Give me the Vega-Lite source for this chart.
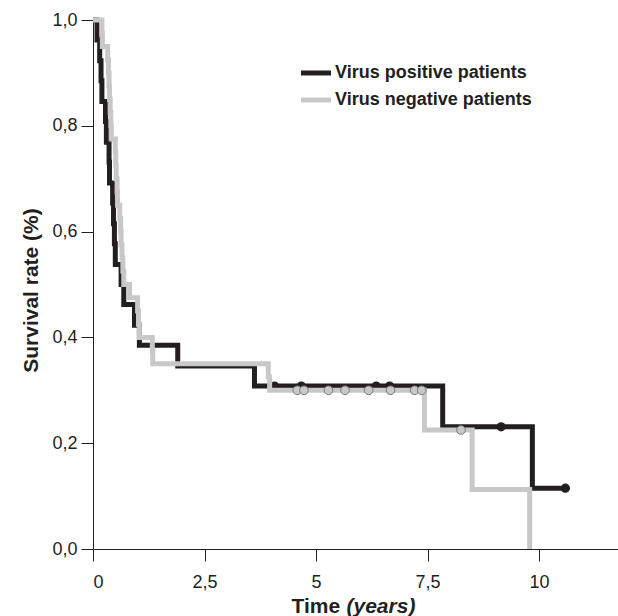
{
  "$schema": "https://vega.github.io/schema/vega-lite/v6.json",
  "width": 525,
  "height": 529,
  "autosize": {"type": "none"},
  "padding": {"left": 93, "top": 20, "right": 0, "bottom": 67},
  "background": "white",
  "config": {
    "view": {"stroke": null},
    "axis": {
      "domainColor": "#231f20",
      "domainWidth": 1,
      "tickColor": "#231f20",
      "tickWidth": 1,
      "tickSize": 12,
      "grid": false,
      "labelFont": "Liberation Sans",
      "labelFontSize": 18,
      "labelColor": "#231f20",
      "titleFont": "Liberation Sans",
      "titleFontSize": 21,
      "titleFontWeight": "bold",
      "titleColor": "#231f20"
    }
  },
  "resolve": {"axis": {"x": "independent", "y": "independent"}},
  "datasets": {
    "curves": [
      {"group": "Virus positive patients", "t": 0, "s": 1},
      {"group": "Virus positive patients", "t": 0.09, "s": 0.962},
      {"group": "Virus positive patients", "t": 0.15, "s": 0.923},
      {"group": "Virus positive patients", "t": 0.18, "s": 0.885},
      {"group": "Virus positive patients", "t": 0.2, "s": 0.846},
      {"group": "Virus positive patients", "t": 0.28, "s": 0.808},
      {"group": "Virus positive patients", "t": 0.3, "s": 0.769},
      {"group": "Virus positive patients", "t": 0.36, "s": 0.731},
      {"group": "Virus positive patients", "t": 0.37, "s": 0.692},
      {"group": "Virus positive patients", "t": 0.44, "s": 0.654},
      {"group": "Virus positive patients", "t": 0.46, "s": 0.615},
      {"group": "Virus positive patients", "t": 0.48, "s": 0.577},
      {"group": "Virus positive patients", "t": 0.5, "s": 0.538},
      {"group": "Virus positive patients", "t": 0.63, "s": 0.5},
      {"group": "Virus positive patients", "t": 0.69, "s": 0.462},
      {"group": "Virus positive patients", "t": 0.93, "s": 0.423},
      {"group": "Virus positive patients", "t": 1.04, "s": 0.385},
      {"group": "Virus positive patients", "t": 1.9, "s": 0.346},
      {"group": "Virus positive patients", "t": 3.62, "s": 0.308},
      {"group": "Virus positive patients", "t": 7.84, "s": 0.231},
      {"group": "Virus positive patients", "t": 9.85, "s": 0.115},
      {"group": "Virus positive patients", "t": 10.59, "s": 0.115},
      {"group": "Virus negative patients", "t": 0, "s": 1},
      {"group": "Virus negative patients", "t": 0.2, "s": 0.975},
      {"group": "Virus negative patients", "t": 0.21, "s": 0.95},
      {"group": "Virus negative patients", "t": 0.33, "s": 0.925},
      {"group": "Virus negative patients", "t": 0.345, "s": 0.9},
      {"group": "Virus negative patients", "t": 0.36, "s": 0.875},
      {"group": "Virus negative patients", "t": 0.37, "s": 0.85},
      {"group": "Virus negative patients", "t": 0.385, "s": 0.825},
      {"group": "Virus negative patients", "t": 0.4, "s": 0.8},
      {"group": "Virus negative patients", "t": 0.41, "s": 0.775},
      {"group": "Virus negative patients", "t": 0.5, "s": 0.75},
      {"group": "Virus negative patients", "t": 0.51, "s": 0.725},
      {"group": "Virus negative patients", "t": 0.52, "s": 0.7},
      {"group": "Virus negative patients", "t": 0.54, "s": 0.675},
      {"group": "Virus negative patients", "t": 0.55, "s": 0.65},
      {"group": "Virus negative patients", "t": 0.6, "s": 0.625},
      {"group": "Virus negative patients", "t": 0.62, "s": 0.6},
      {"group": "Virus negative patients", "t": 0.63, "s": 0.575},
      {"group": "Virus negative patients", "t": 0.65, "s": 0.55},
      {"group": "Virus negative patients", "t": 0.67, "s": 0.525},
      {"group": "Virus negative patients", "t": 0.69, "s": 0.5},
      {"group": "Virus negative patients", "t": 0.82, "s": 0.475},
      {"group": "Virus negative patients", "t": 1.0, "s": 0.45},
      {"group": "Virus negative patients", "t": 1.02, "s": 0.425},
      {"group": "Virus negative patients", "t": 1.04, "s": 0.4},
      {"group": "Virus negative patients", "t": 1.33, "s": 0.375},
      {"group": "Virus negative patients", "t": 1.34, "s": 0.35},
      {"group": "Virus negative patients", "t": 3.93, "s": 0.325},
      {"group": "Virus negative patients", "t": 3.96, "s": 0.3},
      {"group": "Virus negative patients", "t": 7.43, "s": 0.225},
      {"group": "Virus negative patients", "t": 8.5, "s": 0.1125},
      {"group": "Virus negative patients", "t": 9.79, "s": 0}
    ],
    "censored": [
      {"group": "Virus positive patients", "t": 4.07, "s": 0.308},
      {"group": "Virus positive patients", "t": 4.67, "s": 0.308},
      {"group": "Virus positive patients", "t": 6.35, "s": 0.308},
      {"group": "Virus positive patients", "t": 6.65, "s": 0.308},
      {"group": "Virus positive patients", "t": 9.15, "s": 0.231},
      {"group": "Virus positive patients", "t": 10.59, "s": 0.115},
      {"group": "Virus negative patients", "t": 4.58, "s": 0.3},
      {"group": "Virus negative patients", "t": 4.73, "s": 0.3},
      {"group": "Virus negative patients", "t": 5.28, "s": 0.3},
      {"group": "Virus negative patients", "t": 5.65, "s": 0.3},
      {"group": "Virus negative patients", "t": 6.18, "s": 0.3},
      {"group": "Virus negative patients", "t": 6.67, "s": 0.3},
      {"group": "Virus negative patients", "t": 7.21, "s": 0.3},
      {"group": "Virus negative patients", "t": 7.37, "s": 0.3},
      {"group": "Virus negative patients", "t": 8.25, "s": 0.225}
    ]
  },
  "layer": [
    {
      "data": {"name": "curves"},
      "transform": [{"filter": "datum.group === 'Virus positive patients'"}],
      "mark": {"type": "line", "interpolate": "step-after", "strokeWidth": 5, "strokeJoin": "miter", "strokeCap": "butt"},
      "encoding": {
        "x": {
          "field": "t", "type": "quantitative",
          "scale": {"domain": [0, 11.77], "nice": false, "zero": false},
          "axis": {
            "orient": "bottom",
            "values": [0, 2.5, 5, 7.5, 10],
            "labelExpr": "replace(format(datum.value, '~g'), '.', ',')",
            "labelBaseline": "alphabetic",
            "labelPadding": 26,
            "title": "Time",
            "titleX": 198,
            "titleY": 63,
            "titleAlign": "left",
            "titleBaseline": "alphabetic"
          }
        },
        "y": {
          "field": "s", "type": "quantitative",
          "scale": {"domain": [0, 1], "nice": false},
          "axis": {
            "orient": "left",
            "values": [0, 0.2, 0.4, 0.6, 0.8, 1],
            "labelExpr": "replace(format(datum.value, '.1f'), '.', ',')",
            "labelPadding": 4,
            "title": "Survival rate (%)",
            "titleX": -56,
            "titleY": 270,
            "titleAlign": "center",
            "titleBaseline": "alphabetic",
            "titleAngle": -90
          }
        },
        "color": {
          "field": "group", "type": "nominal",
          "scale": {"domain": ["Virus positive patients", "Virus negative patients"], "range": ["#231f20", "#c8c8c8"]},
          "legend": {
            "orient": "none",
            "legendX": 213,
            "legendY": 43,
            "title": null,
            "padding": 0,
            "symbolType": "M-2,0H2",
            "symbolSize": 225,
            "symbolStrokeWidth": 5,
            "labelFont": "Liberation Sans",
            "labelFontSize": 18,
            "labelFontWeight": "bold",
            "labelColor": "#231f20",
            "labelOffset": 9,
            "labelLimit": 400,
            "rowPadding": 7
          }
        }
      }
    },
    {
      "data": {"name": "censored"},
      "transform": [{"filter": "datum.group === 'Virus positive patients'"}],
      "mark": {"type": "point", "shape": "circle", "filled": true, "size": 85, "color": "#231f20", "opacity": 1},
      "encoding": {
        "x": {"field": "t", "type": "quantitative", "axis": null},
        "y": {"field": "s", "type": "quantitative", "axis": null}
      }
    },
    {
      "data": {"name": "curves"},
      "transform": [{"filter": "datum.group === 'Virus negative patients'"}],
      "mark": {"type": "line", "interpolate": "step-after", "strokeWidth": 5, "strokeJoin": "miter", "strokeCap": "butt"},
      "encoding": {
        "x": {
          "field": "t", "type": "quantitative",
          "axis": {
            "orient": "top",
            "domain": false,
            "ticks": false,
            "labels": false,
            "grid": false,
            "title": "(years)",
            "titleFontStyle": "italic",
            "titleX": 253,
            "titleY": 592,
            "titleAlign": "left",
            "titleBaseline": "alphabetic"
          }
        },
        "y": {"field": "s", "type": "quantitative", "axis": null},
        "color": {"field": "group", "type": "nominal"}
      }
    },
    {
      "data": {"name": "censored"},
      "transform": [{"filter": "datum.group === 'Virus negative patients'"}],
      "mark": {"type": "point", "shape": "circle", "filled": true, "size": 75, "fill": "#c8c8c8", "stroke": "#7a7a7a", "strokeWidth": 1, "opacity": 1},
      "encoding": {
        "x": {"field": "t", "type": "quantitative", "axis": null},
        "y": {"field": "s", "type": "quantitative", "axis": null}
      }
    }
  ]
}
